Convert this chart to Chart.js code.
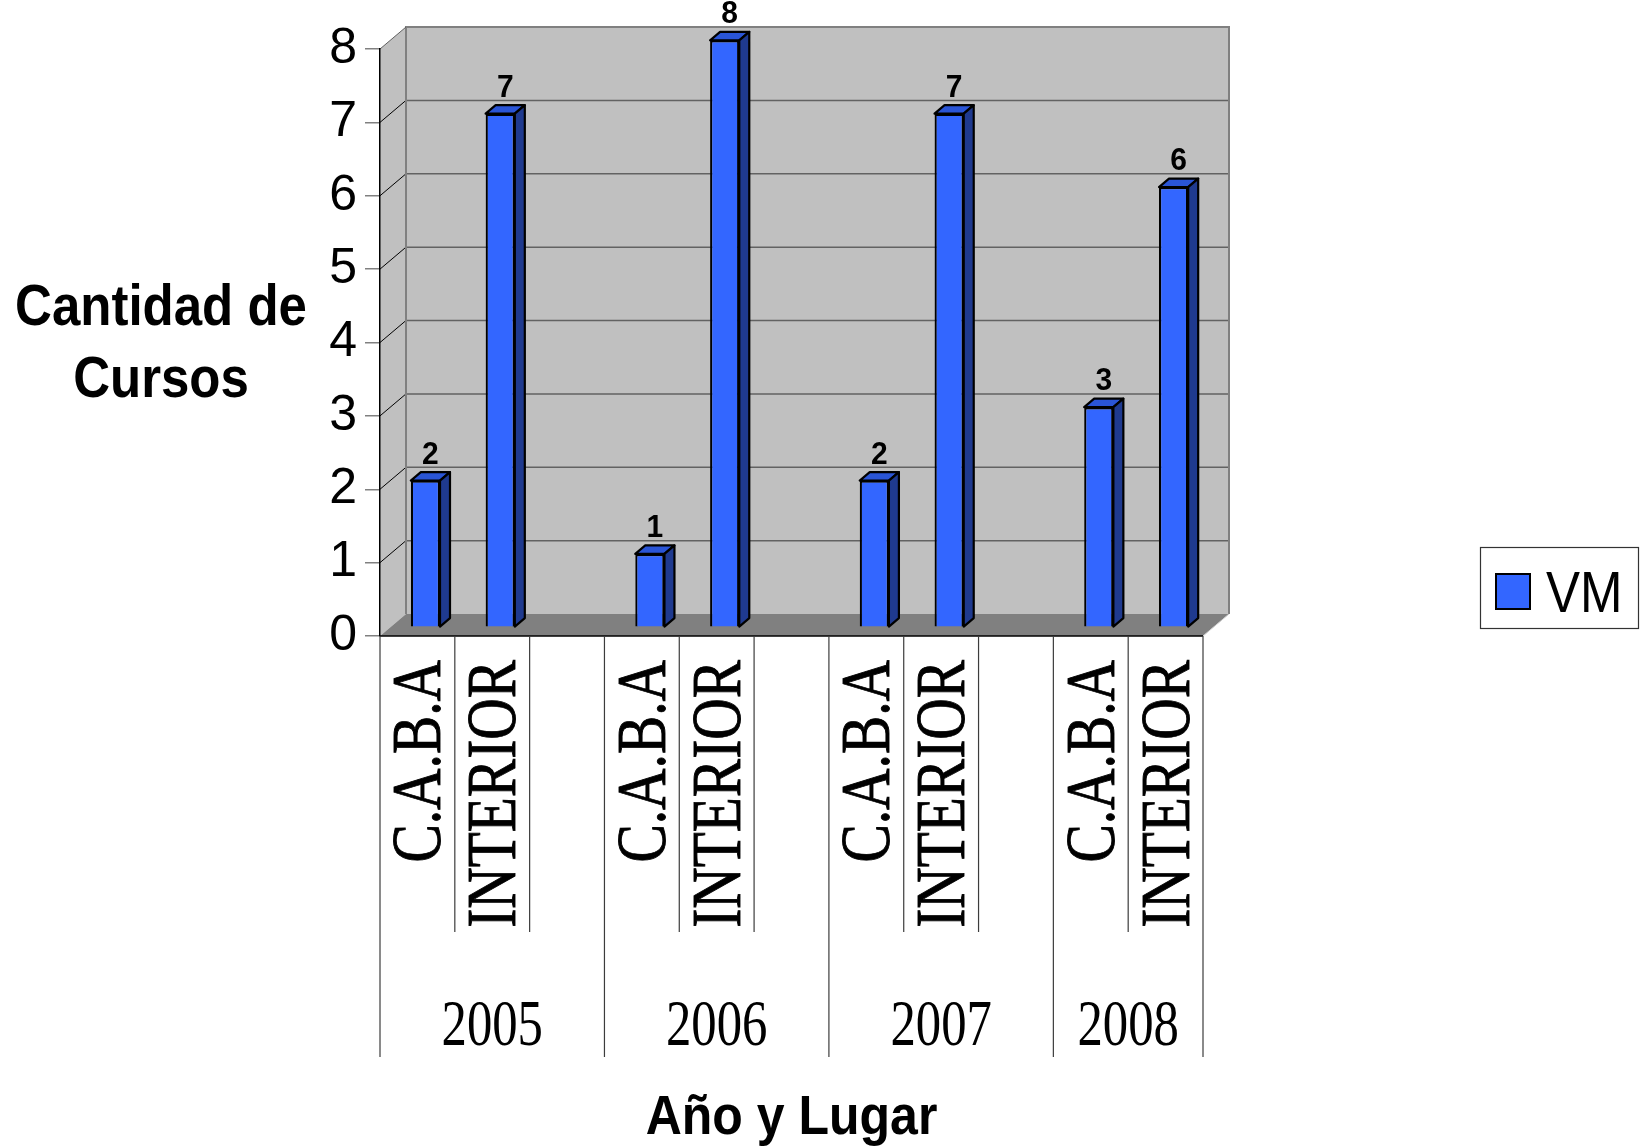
<!DOCTYPE html>
<html>
<head>
<meta charset="utf-8">
<script src="https://cdn.jsdelivr.net/npm/chart.js@4.4.1/dist/chart.umd.min.js"></script>
<style>
  html, body { margin:0; padding:0; background:#fff; }
  #wrap { width:1643px; height:1148px; }
</style>
</head>
<body>
<div id="wrap"><canvas id="chart" width="1643" height="1148"></canvas></div>
<script>
// Cursos VM por año y lugar
const lugares = ["C.A.B.A","INTERIOR","", "C.A.B.A","INTERIOR","", "C.A.B.A","INTERIOR","", "C.A.B.A","INTERIOR"];
const anios = ["2005","2006","2007","2008"];
const cursosVM = [2,7,null, 1,8,null, 2,7,null, 3,6];
const serieNombre = "VM";
const yMin = 0, yMax = 8, yStep = 1;
const tituloY = ["Cantidad de","Cursos"];
const tituloX = "Año y Lugar";

const AZUL = "#3366ff", AZUL_TOP = "#2a55d6", AZUL_SIDE = "#1f3a8f";
const WALL = "#c0c0c0", FLOOR = "#808080";
const DEPTH = {dx:26, dy:22};     // wall depth
const BAR3D = {dx:10, dy:8.5};    // bar depth
const BAR_SHIFT = {x:8, y:-8.7};  // bars sit mid-depth

function $(sel){ return document.querySelector(sel); }

function txt(ctx, s, x, y, font, align, sx=1, sy=1.12){
  ctx.save();
  ctx.translate(x, y);
  ctx.scale(sx, sy);
  ctx.font = font;
  ctx.textAlign = align;
  ctx.textBaseline = "alphabetic";
  ctx.fillStyle = "#000";
  ctx.fillText(s, 0, 0);
  ctx.restore();
}

function poly(ctx, pts, fill, stroke, lw){
  ctx.beginPath();
  pts.forEach((p,i)=> i ? ctx.lineTo(p[0],p[1]) : ctx.moveTo(p[0],p[1]));
  ctx.closePath();
  if (fill){ ctx.fillStyle = fill; ctx.fill(); }
  if (stroke){ ctx.strokeStyle = stroke; ctx.lineWidth = lw || 1; ctx.stroke(); }
}

// walls + floor behind everything
const wallsPlugin = {
  id: "walls",
  beforeDraw(chart){
    const {ctx, chartArea:a, scales:{y}} = chart;
    const L=a.left, R=a.right, dx=DEPTH.dx, dy=DEPTH.dy;
    const y0 = y.getPixelForValue(yMin), yT = y.getPixelForValue(yMax);
    ctx.save();
    // left side wall
    poly(ctx, [[L,y0],[L,yT],[L+dx,yT-dy],[L+dx,y0-dy]], WALL);
    // back wall
    poly(ctx, [[L+dx,yT-dy],[R+dx,yT-dy],[R+dx,y0-dy],[L+dx,y0-dy]], WALL);
    // gridlines on back wall and diagonals on side wall
    for (let v=yMin+yStep; v<yMax; v+=yStep){
      const py = y.getPixelForValue(v);
      ctx.strokeStyle = "#626262"; ctx.lineWidth = 1.5;
      ctx.beginPath(); ctx.moveTo(L+dx, py-dy); ctx.lineTo(R+dx, py-dy); ctx.stroke();
      ctx.strokeStyle = "#000"; ctx.lineWidth = 1;
      ctx.beginPath(); ctx.moveTo(L, py); ctx.lineTo(L+dx, py-dy); ctx.stroke();
    }
    // wall borders
    ctx.strokeStyle = "#808080"; ctx.lineWidth = 2;
    ctx.beginPath();
    ctx.moveTo(L+dx, y0-dy); ctx.lineTo(L+dx, yT-dy); ctx.lineTo(R+dx, yT-dy); ctx.lineTo(R+dx, y0-dy);
    ctx.stroke();
    ctx.strokeStyle = "#606060"; ctx.lineWidth = 1;
    ctx.beginPath(); ctx.moveTo(L, yT); ctx.lineTo(L+dx, yT-dy); ctx.stroke();
    // floor
    poly(ctx, [[L,y0],[R,y0],[R+dx,y0-dy],[L+dx,y0-dy]], FLOOR);
    ctx.strokeStyle = "#d0d0d0"; ctx.lineWidth = 1;
    ctx.beginPath(); ctx.moveTo(R, y0); ctx.lineTo(R+dx, y0-dy); ctx.stroke();
    ctx.strokeStyle = "#000"; ctx.lineWidth = 1.5;
    ctx.beginPath(); ctx.moveTo(L, y0); ctx.lineTo(R, y0); ctx.stroke();
    ctx.restore();
  }
};

// 3D faces + value labels on the bars
const bars3dPlugin = {
  id: "bars3d",
  beforeDatasetsDraw(chart){
    chart.ctx.save();
    chart.ctx.translate(BAR_SHIFT.x, BAR_SHIFT.y);
  },
  afterDatasetsDraw(chart){
    const ctx = chart.ctx;
    const meta = chart.getDatasetMeta(0);
    const bx = BAR3D.dx, by = BAR3D.dy;
    meta.data.forEach((bar, i)=>{
      const v = cursosVM[i];
      if (v == null) return;
      const {x, y, base, width} = bar.getProps(["x","y","base","width"], true);
      const l = x - width/2, r = x + width/2;
      ctx.lineJoin = "round";
      poly(ctx, [[l,y],[l+bx,y-by],[r+bx,y-by],[r,y]], AZUL_TOP, "#000", 2.2);
      poly(ctx, [[r,y],[r+bx,y-by],[r+bx,base-by],[r,base]], AZUL_SIDE, "#000", 2.2);
      txt(ctx, String(v), x + bx/2, y - 17, "bold 30px 'Liberation Sans', Arial, sans-serif", "center", 1, 1.05);
    });
    ctx.restore();
  }
};

// category table below the floor, titles and legend
const labelsPlugin = {
  id: "labels",
  afterDraw(chart){
    const {ctx, chartArea:a, scales:{x, y}} = chart;
    const y0 = y.getPixelForValue(yMin);
    const slot = x.getPixelForValue(1) - x.getPixelForValue(0);
    const shortEnd = 932, longEnd = 1057;
    ctx.save();
    // boundary lines
    ctx.strokeStyle = "#3c3c3c"; ctx.lineWidth = 1.2;
    for (let k=0; k<=lugares.length; k++){
      const bxp = x.getPixelForValue(0) - slot/2 + k*slot;
      const long = k===0 || k===lugares.length || lugares[k-1]==="";
      ctx.beginPath(); ctx.moveTo(bxp, y0); ctx.lineTo(bxp, long ? longEnd : shortEnd); ctx.stroke();
    }
    // rotated place labels
    lugares.forEach((lab, i)=>{
      if (!lab) return;
      const cx = x.getPixelForValue(i);
      ctx.save();
      ctx.translate(cx, 660);
      ctx.rotate(-Math.PI/2);
      ctx.scale(0.82, 1);
      ctx.font = "70px 'Liberation Serif', 'Times New Roman', serif";
      ctx.textAlign = "right";
      ctx.textBaseline = "alphabetic";
      ctx.fillStyle = "#000";
      ctx.strokeStyle = "#000";
      ctx.lineWidth = 0.9;
      ctx.fillText(lab, 0, 23);
      ctx.strokeText(lab, 0, 23);
      ctx.restore();
    });
    // years centred under their group
    let start = 0, g = 0;
    for (let i=0; i<=lugares.length; i++){
      if (i===lugares.length || lugares[i]===""){
        const end = i===lugares.length ? i-1 : i;
        const xl = x.getPixelForValue(start) - slot/2, xr = x.getPixelForValue(end) + slot/2;
        if (anios[g]) txt(ctx, anios[g], (xl+xr)/2, 1045, "65px 'Liberation Serif', 'Times New Roman', serif", "center", 0.78, 1);
        g++; start = i+1;
      }
    }
    // axis titles
    const tf = "bold 51px 'Liberation Sans', Arial, sans-serif";
    txt(ctx, tituloY[0], 161, 325, tf, "center");
    txt(ctx, tituloY[1], 161, 397, tf, "center");
    txt(ctx, tituloX, (a.left + a.right)/2, 1134, "bold 50px 'Liberation Sans', Arial, sans-serif", "center");
    // legend
    ctx.strokeStyle = "#333"; ctx.lineWidth = 1.2;
    ctx.fillStyle = "#fff";
    ctx.fillRect(1480, 547, 159, 82);
    ctx.strokeRect(1480.5, 547.5, 158, 81);
    ctx.fillStyle = AZUL; ctx.fillRect(1496, 574, 34, 35);
    ctx.strokeStyle = "#000"; ctx.lineWidth = 2; ctx.strokeRect(1496, 574, 34, 35);
    txt(ctx, serieNombre, 1546, 612, "51px 'Liberation Sans', Arial, sans-serif", "left");
    ctx.restore();
  }
};

new Chart($("#chart").getContext("2d"), {
  type: "bar",
  data: {
    labels: lugares,
    datasets: [{
      label: serieNombre,
      data: cursosVM,
      backgroundColor: AZUL,
      borderColor: "#000",
      borderWidth: 2.2,
      barPercentage: 0.39,
      categoryPercentage: 1,
      clip: false,
    }]
  },
  options: {
    responsive: false,
    devicePixelRatio: 1,
    animation: false,
    layout: { padding: { left: 0, right: 440, top: 49, bottom: 512 } },
    plugins: { legend: { display: false }, tooltip: { enabled: false }, title: { display: false } },
    scales: {
      x: {
        ticks: { display: false },
        grid: { display: false },
        border: { display: false },
        afterFit: (s)=>{ s.height = 0; }
      },
      y: {
        min: yMin, max: yMax,
        ticks: { stepSize: yStep, color: "#000", padding: 8,
                 font: { family: "'Liberation Sans', Arial, sans-serif", size: 50 } },
        grid: { drawOnChartArea: false, drawTicks: true, tickLength: 15, color: "#808080", lineWidth: 1.5 },
        border: { display: true, color: "#000", width: 1.5 },
        afterFit: (s)=>{ s.width = 380; }
      }
    }
  },
  plugins: [wallsPlugin, bars3dPlugin, labelsPlugin]
});
</script>
</body>
</html>
